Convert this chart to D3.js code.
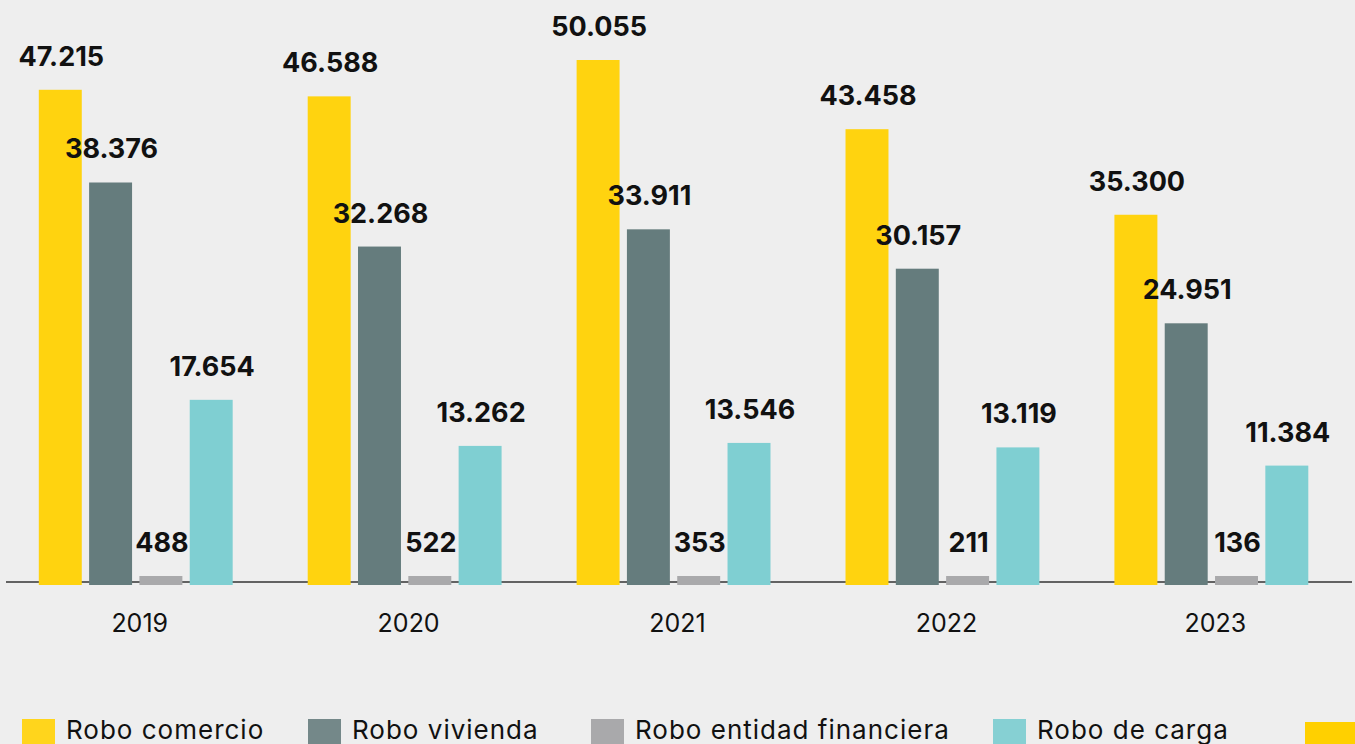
<!DOCTYPE html>
<html>
<head>
<meta charset="utf-8">
<script src="https://cdn.jsdelivr.net/npm/d3@7"></script>
<style>
  html, body { margin: 0; padding: 0; background: #eeeeee; }
  svg { display: block; font-family: "Inter", "Noto Sans", sans-serif; }
</style>
</head>
<body>
<svg id="chart" width="1355" height="744"></svg>
<script>
// data
const years = ["2019", "2020", "2021", "2022", "2023"];
const series = ["Robo comercio", "Robo vivienda", "Robo entidad financiera", "Robo de carga"];
const roboComercio = [47215, 46588, 50055, 43458, 35300];
const roboVivienda = [38376, 32268, 33911, 30157, 24951];
const roboEntidad = [488, 522, 353, 211, 136];
const roboCarga = [17654, 13262, 13546, 13119, 11384];
const legendLabels = ["Robo comercio", "Robo vivienda", "Robo entidad financiera", "Robo de carga", ""];

const colors = ["#ffd30f", "#657c7d", "#a9a9ab", "#7fcfd2"];
const legendColors = ["#ffd51c", "#748889", "#a9a9ab", "#86d0d3", "#ffd000"];
const values = [roboComercio, roboVivienda, roboEntidad, roboCarga];

const svg = d3.select("#chart");
const baseY = 582;

const x0 = d3.scaleBand().domain(years).range([38.8, 1308.3]).paddingInner(0.279).paddingOuter(0);
const x1 = d3.scaleBand().domain(series).range([0, x0.bandwidth()]).paddingInner(0.146).paddingOuter(0);
const y = d3.scaleLinear().domain([0, 50055]).range([585, 60]);
const fmt = v => d3.format(",")(v).replace(/,/g, ".");

// baseline
svg.append("line")
  .attr("x1", 6).attr("x2", 1352)
  .attr("y1", baseY).attr("y2", baseY)
  .attr("stroke", "#333")
  .attr("stroke-width", 1.3);

const rows = years.map((yr, i) => ({
  year: yr,
  bars: series.map((s, j) => ({ s, j, v: values[j][i] }))
}));

const groups = svg.selectAll(".year-group")
  .data(rows)
  .join("g")
  .attr("class", "year-group")
  .attr("transform", d => `translate(${x0(d.year)},0)`);

// bars (tiny values still get a small visible stub)
const barTop = d => Math.min(y(d.v), 576);

groups.selectAll("rect")
  .data(d => d.bars)
  .join("rect")
  .attr("x", d => x1(d.s))
  .attr("y", barTop)
  .attr("width", x1.bandwidth())
  .attr("height", d => y(0) - barTop(d))
  .attr("fill", d => colors[d.j]);

groups.selectAll(".val")
  .data(d => d.bars)
  .join("text")
  .attr("class", "val")
  .attr("x", d => x1(d.s) + x1.bandwidth() / 2 + 1)
  .attr("y", d => barTop(d) - 24)
  .attr("text-anchor", "middle")
  .attr("font-size", 27)
  .attr("font-weight", 700)
  .attr("fill", "#111")
  .text(d => fmt(d.v));

// year labels
svg.selectAll(".year")
  .data(years)
  .join("text")
  .attr("class", "year")
  .attr("x", d => x0(d) + x0.bandwidth() / 2 + 4)
  .attr("y", 632)
  .attr("text-anchor", "middle")
  .attr("font-size", 25)
  .attr("fill", "#111")
  .text(d => d);

// legend
const legendX = [22, 308, 591, 993, 1305];
const leg = svg.selectAll(".legend")
  .data(legendLabels)
  .join("g")
  .attr("class", "legend")
  .attr("transform", (d, i) => `translate(${legendX[i]},${i === 4 ? 722 : 719})`);

leg.append("rect")
  .attr("width", (d, i) => i === 4 ? 52 : 33)
  .attr("height", 33)
  .attr("fill", (d, i) => legendColors[i]);

leg.append("text")
  .attr("x", 44)
  .attr("y", 20)
  .attr("font-size", 26)
  .attr("letter-spacing", 1)
  .attr("fill", "#111")
  .text(d => d);
</script>
</body>
</html>
